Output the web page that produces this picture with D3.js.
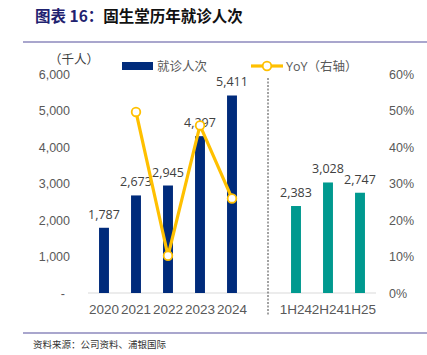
<!DOCTYPE html>
<html><head><meta charset="utf-8">
<script src="https://cdn.jsdelivr.net/npm/d3@7"></script>
<style>
body{margin:0;background:#fff;}
svg{display:block;font-family:"Open Sans","Noto Sans",sans-serif;}
</style></head>
<body><svg id="c" width="427" height="355"></svg>
<script>
const categories = ["2020","2021","2022","2023","2024","","1H24","2H24","1H25"];
const visits = [1787,2673,2945,4297,5411,null,2383,3028,2747];
const yoyCats = ["2021","2022","2023","2024"];
const yoy = [49.6,10.2,45.9,25.9];
const leftTicks = [0,1000,2000,3000,4000,5000,6000];
const rightTicks = [0,10,20,30,40,50,60];

const svg = d3.select("#c");
const navy = "#002B7B", teal = "#00998F", gold = "#FFC000";
const cjk = '"Noto Sans CJK SC", sans-serif';

// title
const t = svg.append("text").attr("x",35).attr("y",22).attr("font-family",cjk).attr("font-weight","bold").attr("font-size",15.5);
t.append("tspan").attr("fill","#1F2270").text("图表 16：");
t.append("tspan").attr("fill","#111").text("固生堂历年就诊人次");
svg.append("line").attr("x1",23).attr("x2",427).attr("y1",42).attr("y2",42).attr("stroke","#8C88BC").attr("stroke-width",1.5);
svg.append("line").attr("x1",23).attr("x2",427).attr("y1",333).attr("y2",333).attr("stroke","#8C88BC").attr("stroke-width",1.5);
svg.append("text").attr("x",33).attr("y",348).attr("font-family",cjk).attr("font-size",9.5).attr("fill","#333").text("资料来源：公司资料、浦银国际");

const x = d3.scaleBand().domain(categories).range([88,376]).paddingInner(0.69).paddingOuter(0.345);
const y = d3.scaleLinear().domain([0,6000]).range([293,74]);
const y2 = d3.scaleLinear().domain([0,60]).range([293,74]);

// axes
const gl = svg.append("g").attr("transform","translate(83,0)")
  .call(d3.axisLeft(y).tickValues(leftTicks).tickSize(0).tickPadding(0).tickFormat(d=> d===0 ? "-" : d3.format(",")(d)));
gl.select(".domain").remove();
gl.selectAll("text").attr("font-size",12.5).attr("fill","#595959").attr("x", d=> d===0 ? -18 : -13).attr("dy","0.35em");

const gr = svg.append("g").attr("transform","translate(389,0)")
  .call(d3.axisRight(y2).tickValues(rightTicks).tickSize(0).tickPadding(0).tickFormat(d=>d+"%"));
gr.select(".domain").remove();
gr.selectAll("text").attr("font-size",12.5).attr("fill","#595959").attr("dy","0.35em");

// baseline
svg.append("line").attr("x1",88).attr("x2",376).attr("y1",y(0)).attr("y2",y(0)).attr("stroke","#D9D9D9").attr("stroke-width",1);

// x labels
const gx = svg.append("g").attr("transform",`translate(0,${y(0)})`)
  .call(d3.axisBottom(x).tickSize(0).tickPadding(11));
gx.select(".domain").remove();
gx.selectAll("text").attr("font-size",13.5).attr("fill","#595959");

// dashed divider
const dx = x("") + x.bandwidth()/2 + 4;
svg.append("line").attr("x1",dx).attr("x2",dx).attr("y1",78).attr("y2",316).attr("stroke","#444").attr("stroke-width",1).attr("stroke-dasharray","2,1.5");

// bars
const data = categories.map((c,i)=>({c,v:visits[i],i})).filter(d=>d.v!=null);
svg.selectAll("rect.bar").data(data).enter().append("rect")
  .attr("x",d=>x(d.c)).attr("width",x.bandwidth())
  .attr("y",d=>y(d.v)).attr("height",d=>y(0)-y(d.v))
  .attr("fill",d=>d.i<5?navy:teal);

// bar labels
svg.selectAll("text.bl").data(data).enter().append("text")
  .attr("x",d=>x(d.c)+x.bandwidth()/2).attr("y",d=>y(d.v)-9)
  .attr("text-anchor","middle").attr("font-size",12.5).attr("fill","#404040")
  .text(d=>d3.format(",")(d.v));

// yoy line
const ld = yoyCats.map((c,i)=>({c,v:yoy[i]}));
const line = d3.line().x(d=>x(d.c)+x.bandwidth()/2).y(d=>y2(d.v));
svg.append("path").datum(ld).attr("d",line).attr("fill","none").attr("stroke",gold).attr("stroke-width",3.2).attr("stroke-linejoin","miter");
svg.selectAll("circle.pt").data(ld).enter().append("circle")
  .attr("cx",d=>x(d.c)+x.bandwidth()/2).attr("cy",d=>y2(d.v)).attr("r",4.3)
  .attr("fill","#fff").attr("stroke",gold).attr("stroke-width",1.8);

// legend
svg.append("rect").attr("x",122).attr("y",62).attr("width",31).attr("height",8).attr("fill",navy);
svg.append("text").attr("x",157).attr("y",71).attr("font-family",cjk).attr("font-size",12.5).attr("fill","#595959").text("就诊人次");
svg.append("line").attr("x1",251).attr("x2",283).attr("y1",66).attr("y2",66).attr("stroke",gold).attr("stroke-width",3.2);
svg.append("circle").attr("cx",267).attr("cy",66).attr("r",4.3).attr("fill","#fff").attr("stroke",gold).attr("stroke-width",1.8);
const lt = svg.append("text").attr("x",286).attr("y",71).attr("font-size",12.5).attr("fill","#595959");
lt.append("tspan").text("YoY");
lt.append("tspan").attr("font-family",cjk).text("（右轴）");

// unit
svg.append("text").attr("x",49).attr("y",64).attr("font-family",cjk).attr("font-size",12.5).attr("fill","#404040").text("（千人）");
</script></body></html>
